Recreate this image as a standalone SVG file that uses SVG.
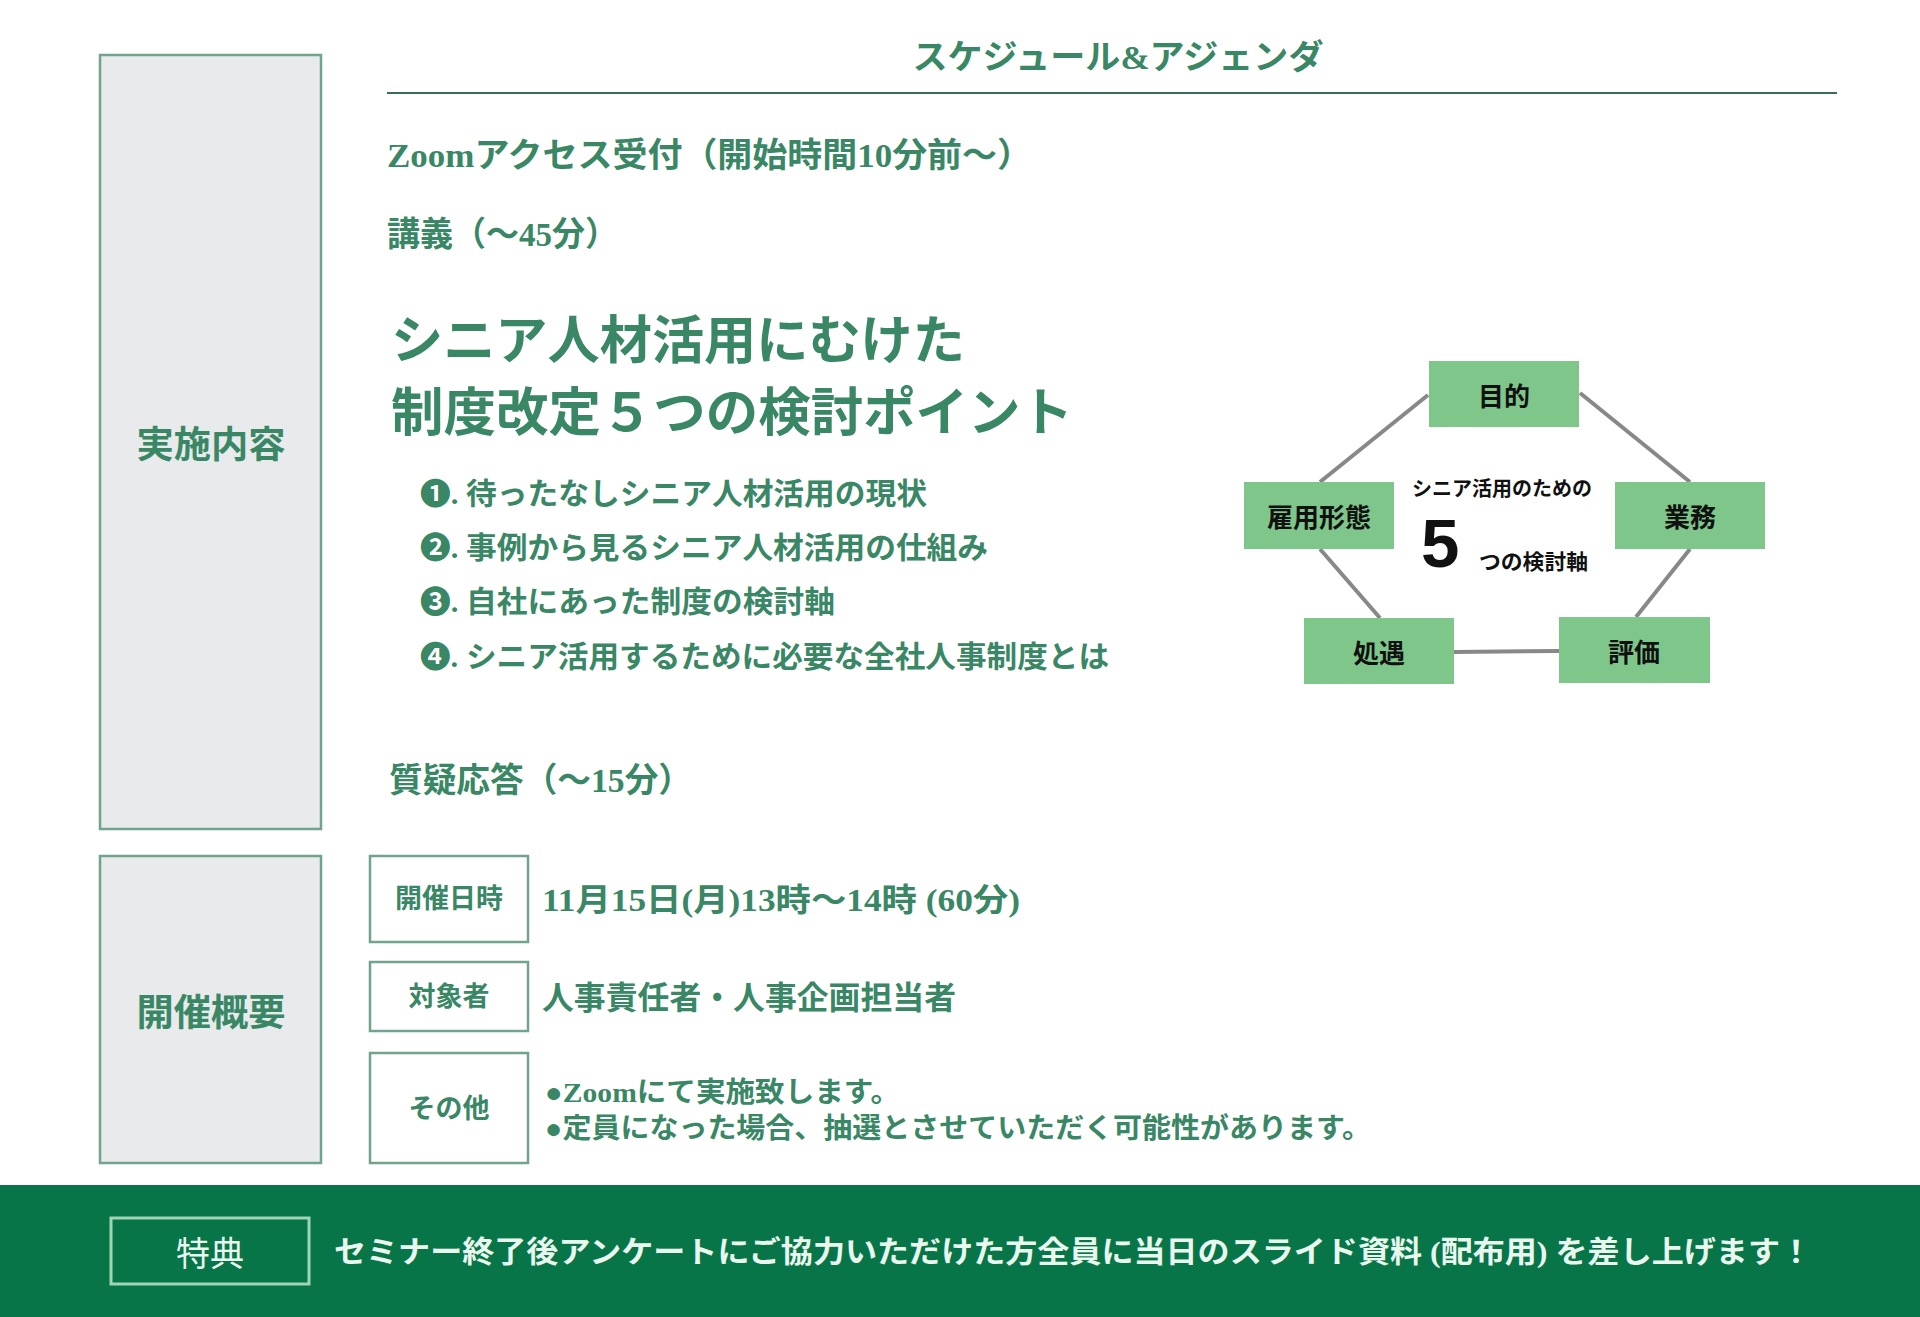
<svg xmlns="http://www.w3.org/2000/svg" width="1920" height="1317" viewBox="0 0 1920 1317">
<style>
.g{fill:#3a8766;font-family:"Liberation Serif","Noto Sans CJK JP",serif;font-weight:700}
.c{dominant-baseline:central}
.panel{fill:#e8eaeb;stroke:#72a38d;stroke-width:2.5}
.lbl{fill:#ffffff;stroke:#72a38d;stroke-width:2.5}
.box{fill:#7fc68a}
.bt{fill:#111111;font-family:"Noto Sans CJK JP","Noto Sans",sans-serif;font-weight:700;font-size:26px;text-anchor:middle;dominant-baseline:central}
.conn{stroke:#888888;stroke-width:4;fill:none}
</style>
<rect x="0" y="0" width="1920" height="1317" fill="#ffffff"/>

<g id="header">
<text class="g c" x="1118" y="57" font-size="34" text-anchor="middle" textLength="411" lengthAdjust="spacingAndGlyphs">スケジュール&amp;アジェンダ</text>
<line x1="387" y1="93" x2="1837" y2="93" stroke="#3d6b5a" stroke-width="2"/>
</g>

<g id="panel-content">
<rect class="panel" x="100" y="55" width="221" height="774"/>
<text class="g c" x="211" y="445" font-size="37" text-anchor="middle" textLength="149" lengthAdjust="spacingAndGlyphs">実施内容</text>
</g>

<g id="schedule">
<text class="g c" x="387" y="155" font-size="34" textLength="645" lengthAdjust="spacingAndGlyphs">Zoomアクセス受付（開始時間10分前～）</text>
<text class="g c" x="387" y="234" font-size="34" textLength="231" lengthAdjust="spacingAndGlyphs">講義（～45分）</text>
<text class="g c" x="391" y="341" font-size="52" font-weight="900" textLength="574" lengthAdjust="spacingAndGlyphs">シニア人材活用にむけた</text>
<text class="g c" x="391" y="413" font-size="52" font-weight="900" textLength="682" lengthAdjust="spacingAndGlyphs">制度改定５つの検討ポイント</text>
<text class="g c" x="420" y="493" font-size="30" textLength="507" lengthAdjust="spacingAndGlyphs">❶. 待ったなしシニア人材活用の現状</text>
<text class="g c" x="420" y="547" font-size="30" textLength="568" lengthAdjust="spacingAndGlyphs">❷. 事例から見るシニア人材活用の仕組み</text>
<text class="g c" x="420" y="601" font-size="30" textLength="415" lengthAdjust="spacingAndGlyphs">❸. 自社にあった制度の検討軸</text>
<text class="g c" x="420" y="656" font-size="30" textLength="689" lengthAdjust="spacingAndGlyphs">❹. シニア活用するために必要な全社人事制度とは</text>
<text class="g c" x="389" y="780" font-size="34" textLength="303" lengthAdjust="spacingAndGlyphs">質疑応答（～15分）</text>
</g>

<g id="connectors">
<line class="conn" x1="1428" y1="395" x2="1320" y2="482"/>
<line class="conn" x1="1580" y1="393" x2="1690" y2="482"/>
<line class="conn" x1="1320" y1="549" x2="1380" y2="618"/>
<line class="conn" x1="1690" y1="549" x2="1636" y2="617"/>
<line class="conn" x1="1454" y1="652" x2="1559" y2="651"/>
</g>

<g id="node-mokuteki"><rect class="box" x="1429" y="361" width="150" height="66"/><text class="bt" x="1504" y="394">目的</text></g>
<g id="node-koyou"><rect class="box" x="1244" y="482" width="150" height="67"/><text class="bt" x="1319" y="515">雇用形態</text></g>
<g id="node-gyoumu"><rect class="box" x="1615" y="482" width="150" height="67"/><text class="bt" x="1690" y="515">業務</text></g>
<g id="node-shogu"><rect class="box" x="1304" y="618" width="150" height="66"/><text class="bt" x="1379" y="651">処遇</text></g>
<g id="node-hyouka"><rect class="box" x="1559" y="617" width="151" height="66"/><text class="bt" x="1634" y="650">評価</text></g>

<g id="diagram-center">
<text x="1412" y="487" font-family="Noto Sans CJK JP,Noto Sans,sans-serif" font-weight="700" font-size="20" fill="#111111" dominant-baseline="central" textLength="180" lengthAdjust="spacingAndGlyphs">シニア活用のための</text>
<text x="1421" y="567" font-family="Liberation Sans,Arial,sans-serif" font-weight="700" font-size="69" fill="#111111">5</text>
<text x="1479" y="560" font-family="Noto Sans CJK JP,Noto Sans,sans-serif" font-weight="700" font-size="21" fill="#111111" dominant-baseline="central" textLength="109" lengthAdjust="spacingAndGlyphs">つの検討軸</text>
</g>

<g id="panel-overview">
<rect class="panel" x="100" y="856" width="221" height="307"/>
<text class="g c" x="211" y="1013" font-size="37" text-anchor="middle" textLength="149" lengthAdjust="spacingAndGlyphs">開催概要</text>
</g>

<g id="row-date">
<rect class="lbl" x="370" y="856" width="158" height="86"/>
<text class="g c" x="449" y="899" font-size="27" text-anchor="middle">開催日時</text>
<text class="g c" x="542" y="900" font-size="32" textLength="478" lengthAdjust="spacingAndGlyphs">11月15日(月)13時～14時 (60分)</text>
</g>

<g id="row-target">
<rect class="lbl" x="370" y="962" width="158" height="69"/>
<text class="g c" x="449" y="997" font-size="27" text-anchor="middle">対象者</text>
<text class="g c" x="542" y="998" font-size="32" textLength="414" lengthAdjust="spacingAndGlyphs">人事責任者・人事企画担当者</text>
</g>

<g id="row-other">
<rect class="lbl" x="370" y="1053" width="158" height="110"/>
<text class="g c" x="449" y="1109" font-size="27" text-anchor="middle">その他</text>
<text class="g c" x="545" y="1092" font-size="28" textLength="355" lengthAdjust="spacingAndGlyphs">●Zoomにて実施致します。</text>
<text class="g c" x="545" y="1128" font-size="28" textLength="826" lengthAdjust="spacingAndGlyphs">●定員になった場合、抽選とさせていただく可能性があります。</text>
</g>

<g id="banner">
<rect x="0" y="1185" width="1920" height="132" fill="#077548"/>
<rect x="111" y="1218" width="198" height="66" fill="none" stroke="#9fd6b5" stroke-width="3"/>
<text x="210" y="1251" font-family="Noto Sans CJK JP,Noto Sans,sans-serif" font-weight="400" font-size="34" fill="#eaf7ef" text-anchor="middle" dominant-baseline="central">特典</text>
<text class="c" x="334" y="1251" font-family="Liberation Serif,Noto Sans CJK JP,serif" font-weight="700" font-size="30" fill="#eaf7ef" textLength="1478" lengthAdjust="spacingAndGlyphs">セミナー終了後アンケートにご協力いただけた方全員に当日のスライド資料 (配布用) を差し上げます！</text>
</g>
</svg>
